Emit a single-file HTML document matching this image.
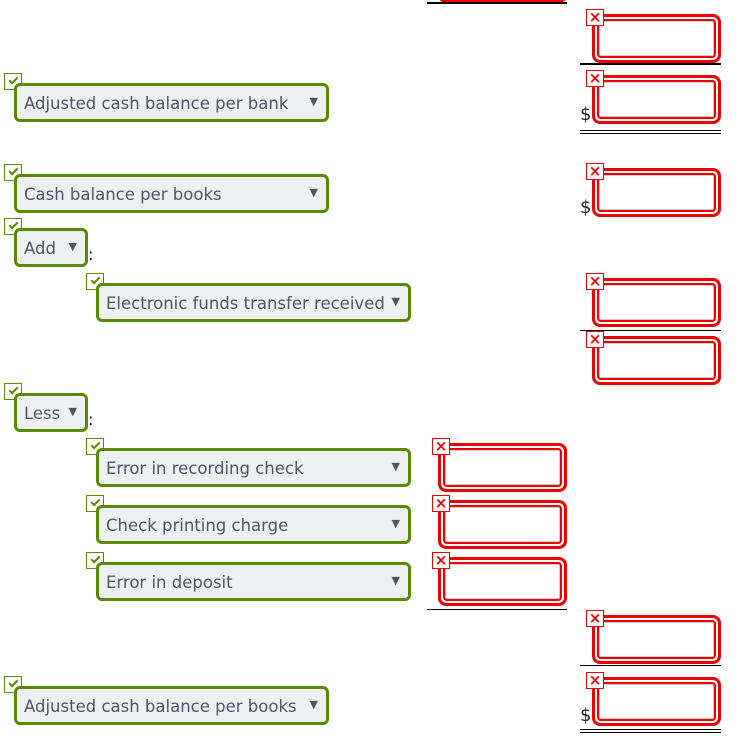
<!DOCTYPE html>
<html><head><meta charset="utf-8"><style>
body{margin:0;width:747px;height:745px;background:#fff;position:relative;overflow:hidden;font-family:"DejaVu Sans","Liberation Sans",sans-serif}
.dd{position:absolute;box-sizing:border-box;height:39px;border:3px solid #5a8a00;border-radius:6px;background:#eeeff1;color:#4f5566;font-size:16.5px;line-height:36px;padding-left:7px;white-space:nowrap}
.dd .ar{position:absolute;right:8px;top:-2px;font-size:11px;color:#555}
.ck{position:absolute;width:18px;height:17px;box-sizing:border-box;border:1.5px solid #5a8a00;background:#fff}
.ck:after{content:"";position:absolute;left:4px;top:3px;width:7px;height:3px;border-left:2px solid #5a8a00;border-bottom:2px solid #5a8a00;transform:rotate(-45deg)}
.rb{position:absolute;box-sizing:border-box;width:129px;height:49px;border:3px solid #e00;border-radius:8px;padding:2px;background:#fff}
.rb div{box-sizing:border-box;width:100%;height:100%;border:2px solid #e00;border-radius:4px;box-shadow:inset 0 0 0 1px #ccc}
.x{position:absolute;width:18px;height:17px;box-sizing:border-box;border:1.5px solid #e00;background:#fff;color:#e00;font-size:15px;font-weight:bold;line-height:14px;text-align:center}
.ln{position:absolute;height:0;border-top:2px solid #000}
.d{position:absolute;font-size:18px;color:#222}
.c{position:absolute;font-size:16px;color:#000}
</style></head><body>
<div class="rb" style="left:438px;top:-46px"><div></div></div>
<div class="ln" style="left:427px;top:2px;width:140px"></div>

<div class="rb" style="left:592px;top:14px"><div></div></div><div class="x" style="left:586px;top:9px">×</div>
<div class="ln" style="left:580px;top:63px;width:141px"></div>
<div class="rb" style="left:592px;top:75px"><div></div></div><div class="x" style="left:586px;top:70px">×</div>
<div class="d" style="left:580px;top:104px">$</div>
<div class="ln" style="left:580px;top:130px;width:141px;border-top-width:1px"></div>
<div class="ln" style="left:580px;top:133px;width:141px;border-top-width:1px"></div>

<div class="ck" style="left:4px;top:73px"></div>
<div class="dd" style="left:14px;top:83px;width:315px">Adjusted cash balance per bank<span class="ar">▼</span></div>

<div class="ck" style="left:4px;top:164px"></div>
<div class="dd" style="left:14px;top:174px;width:315px">Cash balance per books<span class="ar">▼</span></div>
<div class="rb" style="left:592px;top:168px"><div></div></div><div class="x" style="left:586px;top:163px">×</div>
<div class="d" style="left:580px;top:197px">$</div>

<div class="ck" style="left:4px;top:218px"></div>
<div class="dd" style="left:14px;top:228px;width:74px">Add<span class="ar">▼</span></div>
<div class="c" style="left:88px;top:245px">:</div>

<div class="ck" style="left:86px;top:273px"></div>
<div class="dd" style="left:96px;top:283px;width:315px">Electronic funds transfer received<span class="ar">▼</span></div>
<div class="rb" style="left:592px;top:278px"><div></div></div><div class="x" style="left:586px;top:273px">×</div>
<div class="ln" style="left:580px;top:330px;width:141px;border-top-width:1px"></div>
<div class="rb" style="left:592px;top:336px"><div></div></div><div class="x" style="left:586px;top:331px">×</div>

<div class="ck" style="left:4px;top:383px"></div>
<div class="dd" style="left:14px;top:393px;width:74px">Less<span class="ar">▼</span></div>
<div class="c" style="left:88px;top:410px">:</div>

<div class="ck" style="left:86px;top:438px"></div>
<div class="dd" style="left:96px;top:448px;width:315px">Error in recording check<span class="ar">▼</span></div>
<div class="rb" style="left:438px;top:443px"><div></div></div><div class="x" style="left:432px;top:438px">×</div>

<div class="ck" style="left:86px;top:495px"></div>
<div class="dd" style="left:96px;top:505px;width:315px">Check printing charge<span class="ar">▼</span></div>
<div class="rb" style="left:438px;top:500px"><div></div></div><div class="x" style="left:432px;top:495px">×</div>

<div class="ck" style="left:86px;top:552px"></div>
<div class="dd" style="left:96px;top:562px;width:315px">Error in deposit<span class="ar">▼</span></div>
<div class="rb" style="left:438px;top:557px"><div></div></div><div class="x" style="left:432px;top:552px">×</div>
<div class="ln" style="left:427px;top:609px;width:140px;border-top-width:1px"></div>

<div class="rb" style="left:592px;top:615px"><div></div></div><div class="x" style="left:586px;top:610px">×</div>
<div class="ln" style="left:580px;top:665px;width:141px;border-top-width:1px"></div>
<div class="rb" style="left:592px;top:677px"><div></div></div><div class="x" style="left:586px;top:672px">×</div>
<div class="d" style="left:580px;top:705px">$</div>
<div class="ln" style="left:580px;top:729px;width:141px;border-top-width:1px"></div>
<div class="ln" style="left:580px;top:732px;width:141px;border-top-width:1px"></div>

<div class="ck" style="left:4px;top:676px"></div>
<div class="dd" style="left:14px;top:686px;width:315px">Adjusted cash balance per books<span class="ar">▼</span></div>
</body></html>
